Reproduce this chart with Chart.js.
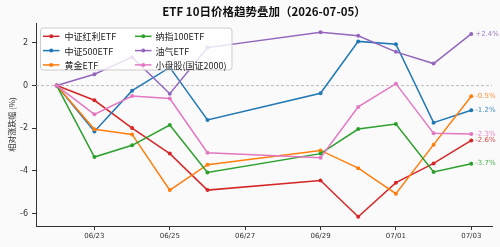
<!DOCTYPE html>
<html><head><meta charset="utf-8">
<script src="https://cdn.jsdelivr.net/npm/chart.js@4/dist/chart.umd.min.js"></script>
<style>html,body{margin:0;padding:0;background:#fafafa;overflow:hidden;}canvas{display:block;}</style>
</head><body>
<canvas id="c" width="500" height="247" style="width:500px;height:247px"></canvas>
<script>
// ---- data ----
const titleText = 'ETF 10日价格趋势叠加（2026-07-05）';
const yAxisTitle = '相对涨跌幅 (%)';
const dates = ['2026-06-22','2026-06-23','2026-06-24','2026-06-25','2026-06-26','2026-06-29','2026-06-30','2026-07-01','2026-07-02','2026-07-03'];
const xTickLabels = ['06/23','06/25','06/27','06/29','07/01','07/03'];
const yTickValues = [-6,-4,-2,0,2];
const seriesNames = ['中证红利ETF','中证500ETF','黄金ETF','纳指100ETF','油气ETF','小盘股(国证2000)'];
const hongli   = [0, -0.69, -1.99, -3.19, -4.90, -4.45, -6.15, -4.55, -3.65, -2.57];
const zz500    = [0, -2.15, -0.24,  0.85, -1.61, -0.36,  2.07,  1.94, -1.74, -1.16];
const gold     = [0, -2.05, -2.29, -4.90, -3.71, -3.04, -3.87, -5.07, -2.77, -0.50];
const nasdaq   = [0, -3.35, -2.80, -1.85, -4.07, -3.19, -2.04, -1.80, -4.05, -3.66];
const oilgas   = [0,  0.53,  1.33, -0.38,  1.78,  2.50,  2.33,  1.58,  1.03,  2.42];
const smallcap = [0, -1.35, -0.49, -0.61, -3.15, -3.38, -1.00,  0.09, -2.24, -2.27];
const seriesValues = [hongli, zz500, gold, nasdaq, oilgas, smallcap];
const seriesColors = ['#d62728','#1f77b4','#ff7f0e','#2ca02c','#9467bd','#e377c2'];

// ---- helpers ----
const DAY = 86400000;
const base = Date.UTC(2026,5,23);
function dayOffset(s){const p=s.split('-').map(Number);return (Date.UTC(p[0],p[1]-1,p[2])-base)/DAY;}
function labelOffset(l){const p=l.split('/').map(Number);return (Date.UTC(2026,p[0]-1,p[1])-base)/DAY;}
const xs = dates.map(dayOffset);
const xMin = xs[0] - 0.55, xMax = xs[xs.length-1] + 0.55;
const allV = seriesValues.flat();
const vMin = Math.min(...allV), vMax = Math.max(...allV), vPad = (vMax - vMin)*0.05;

const CJK = "'Noto Sans CJK SC','DejaVu Sans',sans-serif";
const LAT = "'DejaVu Sans','Noto Sans CJK SC',sans-serif";

const datasets = seriesNames.map((n,i)=>({
  label:n,
  data: xs.map((x,j)=>({x:x,y:seriesValues[i][j]})),
  borderColor: seriesColors[i],
  backgroundColor: seriesColors[i],
  pointBackgroundColor: seriesColors[i],
  pointBorderWidth:0,
  pointRadius:2,
  borderWidth:1.5,
  tension:0,
  order: seriesNames.length-1-i
}));

function hexA(h,a){const r=parseInt(h.slice(1,3),16),g=parseInt(h.slice(3,5),16),b=parseInt(h.slice(5,7),16);return `rgba(${r},${g},${b},${a})`;}

const custom = {
  id:'custom',
  beforeDraw(chart){
    const c=chart.ctx; c.save(); c.fillStyle='#fafafa'; c.fillRect(0,0,chart.width,chart.height); c.restore();
  },
  beforeDatasetsDraw(chart){
    const c=chart.ctx, a=chart.chartArea, y=chart.scales.y.getPixelForValue(0);
    c.save(); c.strokeStyle='#b0b0b0'; c.lineWidth=0.8; c.setLineDash([3,2]);
    c.beginPath(); c.moveTo(a.left,y); c.lineTo(a.right,y); c.stroke(); c.restore();
  },
  afterDatasetsDraw(chart){
    const c=chart.ctx, a=chart.chartArea;
    c.save();
    // end labels
    c.font='7px '+LAT; c.textBaseline='middle'; c.textAlign='left';
    chart.data.datasets.forEach((ds,i)=>{
      const m=chart.getDatasetMeta(i); const pt=m.data[m.data.length-1];
      const v=ds.data[ds.data.length-1].y;
      c.fillStyle=hexA(seriesColors[i],0.85);
      c.fillText((v>=0?'+':'')+v.toFixed(1)+'%', pt.x+4, pt.y);
    });
    // legend
    const bx=40.5, by=28, bw=191.5, bh=42, r=3;
    c.beginPath();
    c.moveTo(bx+r,by); c.lineTo(bx+bw-r,by); c.quadraticCurveTo(bx+bw,by,bx+bw,by+r);
    c.lineTo(bx+bw,by+bh-r); c.quadraticCurveTo(bx+bw,by+bh,bx+bw-r,by+bh);
    c.lineTo(bx+r,by+bh); c.quadraticCurveTo(bx,by+bh,bx,by+bh-r);
    c.lineTo(bx,by+r); c.quadraticCurveTo(bx,by,bx+r,by); c.closePath();
    c.fillStyle='rgba(255,255,255,0.8)'; c.fill();
    c.strokeStyle='#cccccc'; c.lineWidth=1; c.stroke();
    const rows=[36.3,50.6,64.9];
    c.font='9px '+CJK; c.textBaseline='middle';
    chart.data.datasets.forEach((ds,i)=>{
      const col=i<3?0:1, y=rows[i%3];
      const lx0=col?135:43, lx1=col?151.5:59.5, tx=col?155.5:64.5;
      c.strokeStyle=seriesColors[i]; c.lineWidth=1.5;
      c.beginPath(); c.moveTo(lx0,y); c.lineTo(lx1,y); c.stroke();
      c.fillStyle=seriesColors[i]; c.beginPath(); c.arc((lx0+lx1)/2,y,2,0,Math.PI*2); c.fill();
      c.fillStyle='#222'; c.fillText(ds.label, tx, y+0.5);
    });
    // title
    c.font='bold 11.5px '+CJK; c.textAlign='center'; c.fillStyle='#111';
    c.fillText(titleText,(a.left+a.right)/2,12);
    c.restore();
  }
};

new Chart(document.getElementById('c'),{
  type:'line',
  data:{datasets},
  options:{
    responsive:false, animation:false, devicePixelRatio:1,
    layout:{padding:{top:23,right:8,left:0,bottom:0}},
    plugins:{legend:{display:false},tooltip:{enabled:false},title:{display:false}},
    scales:{
      x:{type:'linear',min:xMin,max:xMax,
        afterBuildTicks:s=>{s.ticks=xTickLabels.map(l=>({value:labelOffset(l)}));},
        ticks:{autoSkip:false,maxRotation:0,padding:2,color:'#333',font:{size:7,family:LAT},
          callback:v=>{const k=xTickLabels.findIndex(l=>labelOffset(l)===v);return k>=0?xTickLabels[k]:'';}},
        grid:{drawOnChartArea:false,drawTicks:true,tickLength:4,color:'#333',tickWidth:1},
        border:{display:true,color:'#333',width:1},
        afterFit:s=>{s.height=21;}
      },
      y:{type:'linear',min:vMin-vPad,max:vMax+vPad,
        afterBuildTicks:s=>{s.ticks=yTickValues.map(v=>({value:v}));},
        ticks:{padding:4,color:'#333',font:{size:8,family:LAT}},
        grid:{drawOnChartArea:false,drawTicks:true,tickLength:4,color:'#333',tickWidth:1},
        border:{display:true,color:'#333',width:1},
        title:{display:true,text:yAxisTitle,color:'#333',font:{size:8,family:CJK},padding:{top:7,bottom:0}},
        afterFit:s=>{s.width=36;}
      }
    }
  },
  plugins:[custom]
});
</script>
</body></html>
